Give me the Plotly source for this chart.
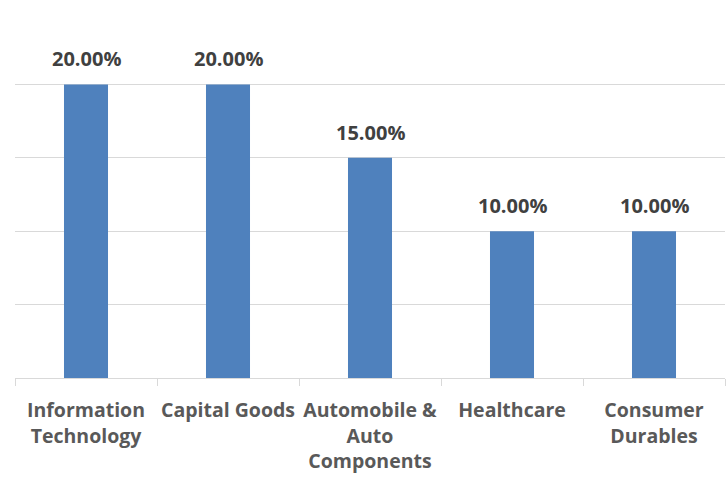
import plotly.graph_objects as go

categories = ["Information<br>Technology", "Capital Goods", "Automobile &<br>Auto<br>Components",
              "Healthcare", "Consumer<br>Durables"]
values = [0.20, 0.20, 0.15, 0.10, 0.10]
labels = ["20.00%", "20.00%", "15.00%", "10.00%", "10.00%"]

fig = go.Figure()
fig.add_trace(go.Bar(x=categories, y=values, marker=dict(color="#4F81BD", line=dict(width=0)),
                     hoverinfo="skip"))

for c, v, t in zip(categories, values, labels):
    fig.add_annotation(x=c, y=v, text=t, showarrow=False, yanchor="bottom", yshift=10,
                       font=dict(family="Open Sans", size=20, color="#404040", weight="bold"))

fig.update_layout(
    width=728, height=481,
    margin=dict(l=15, r=3, t=11, b=103),
    paper_bgcolor="white", plot_bgcolor="white",
    bargap=0.69, showlegend=False,
    font=dict(family="Open Sans", color="#595959"),
)
fig.update_xaxes(
    tickson="boundaries", ticks="outside", ticklen=7, tickcolor="#d9d9d9", tickwidth=1,
    showline=True, linecolor="#d9d9d9", linewidth=1, showgrid=False,
    tickfont=dict(family="Open Sans", size=19.5, color="#595959", weight="bold"),
    ticklabelstandoff=15, tickangle=0, automargin=False,
)
fig.update_yaxes(
    range=[0, 0.25], dtick=0.05, showticklabels=False, showgrid=True,
    gridcolor="#d9d9d9", gridwidth=1, zeroline=False, ticks="", automargin=False,
)

fig.write_html("out.html")
